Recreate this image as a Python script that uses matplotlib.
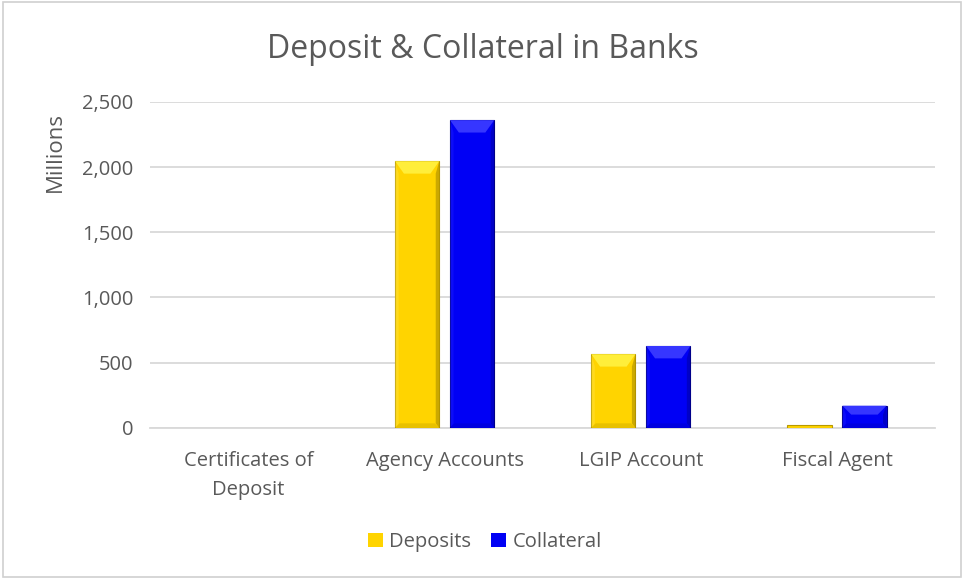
import matplotlib
matplotlib.use("Agg")
import matplotlib.pyplot as plt
from matplotlib.patches import Polygon, Rectangle
from matplotlib.ticker import FuncFormatter
import numpy as np

categories = ["Certificates of\nDeposit", "Agency Accounts", "LGIP Account", "Fiscal Agent"]
deposits = [0, 2045, 565, 20]
collateral = [0, 2360, 628, 170]
yticks = [0, 500, 1000, 1500, 2000, 2500]

plt.rcParams['font.family'] = ['Open Sans', 'DejaVu Sans']
txt = "#595959"

fig = plt.figure(figsize=(9.64, 5.79), dpi=100)
ax = fig.add_axes([0.156, 0.261, 0.814, 0.563])

x = np.arange(len(categories))
w = 0.225
off = 0.14

def edges(vals, c):
    return [c if v > 0 else "none" for v in vals]

b1 = ax.bar(x - off, deposits, w, color="#FFD400", edgecolor=edges(deposits, "#B89A00"), linewidth=0.8, zorder=3, label="Deposits")
b2 = ax.bar(x + off, collateral, w, color="#0000F5", edgecolor=edges(collateral, "#00008A"), linewidth=0.8, zorder=3, label="Collateral")

# bevel shading derived from bar geometry
def bevel(bars, light, dark, side):
    for r in bars:
        x0, y0 = r.get_x(), r.get_y()
        bw, bh = r.get_width(), r.get_height()
        if bh <= 30:
            continue
        dx = bw * 0.2
        dy = min(bh * 0.4, 95)
        db = min(bh * 0.2, 35)
        x1, y1 = x0 + bw, y0 + bh
        # top
        ax.add_patch(Polygon([[x0, y1], [x1, y1], [x1 - dx, y1 - dy], [x0 + dx, y1 - dy]],
                             closed=True, facecolor=light, edgecolor="none", zorder=4))
        # bottom
        ax.add_patch(Polygon([[x0, y0], [x1, y0], [x1 - dx * 0.5, y0 + db], [x0 + dx * 0.5, y0 + db]],
                             closed=True, facecolor=dark, edgecolor="none", zorder=4, alpha=0.2))
        # right side
        ax.add_patch(Polygon([[x1, y0], [x1, y1], [x1 - dx * 0.4, y1 - dy], [x1 - dx * 0.4, y0 + db]],
                             closed=True, facecolor=dark, edgecolor="none", zorder=4, alpha=0.45))
        # left side
        ax.add_patch(Polygon([[x0, y0], [x0, y1], [x0 + dx * 0.4, y1 - dy], [x0 + dx * 0.4, y0 + db]],
                             closed=True, facecolor=side, edgecolor="none", zorder=4, alpha=0.3))

bevel(b1, "#FFEE3A", "#8F7600", "#FFE866")
bevel(b2, "#3636FF", "#00008F", "#2A2AFF")

ax.set_ylim(0, 2500)
ax.set_xlim(-0.5, 3.5)
ax.set_yticks(yticks)
ax.yaxis.set_major_formatter(FuncFormatter(lambda v, p: f"{int(v):,}"))
ax.grid(axis="y", color="#D9D9D9", linewidth=1.3, zorder=0)
ax.set_axisbelow(True)
for s in ["top", "right", "left"]:
    ax.spines[s].set_visible(False)
ax.spines["bottom"].set_color("#D9D9D9")
ax.spines["bottom"].set_linewidth(1.3)
ax.tick_params(axis="both", length=0, labelsize=14.5, colors=txt)
ax.tick_params(axis="y", pad=12)
ax.tick_params(axis="x", pad=17)
ax.set_xticks(x)
ax.set_xticklabels(categories, linespacing=1.6)

fig.text(0.057, 0.737, "Millions", rotation=90, ha="center", va="center", fontsize=16, color=txt)
fig.text(0.501, 0.915, "Deposit & Collateral in Banks", ha="center", va="center", fontsize=23, color=txt)

leg = fig.legend(handles=[b1, b2], loc="center", bbox_to_anchor=(0.503, 0.064), ncol=2, frameon=False,
                 fontsize=14.5, handlelength=0.75, handleheight=0.75, handletextpad=0.3, columnspacing=1.0)
for t in leg.get_texts():
    t.set_color(txt)

fig.patches.append(Rectangle((0.003, 0.003), 0.994, 0.994, transform=fig.transFigure, fill=False,
                             edgecolor="#D0D0D0", linewidth=1.2))

fig.savefig("out.png", dpi=100)
